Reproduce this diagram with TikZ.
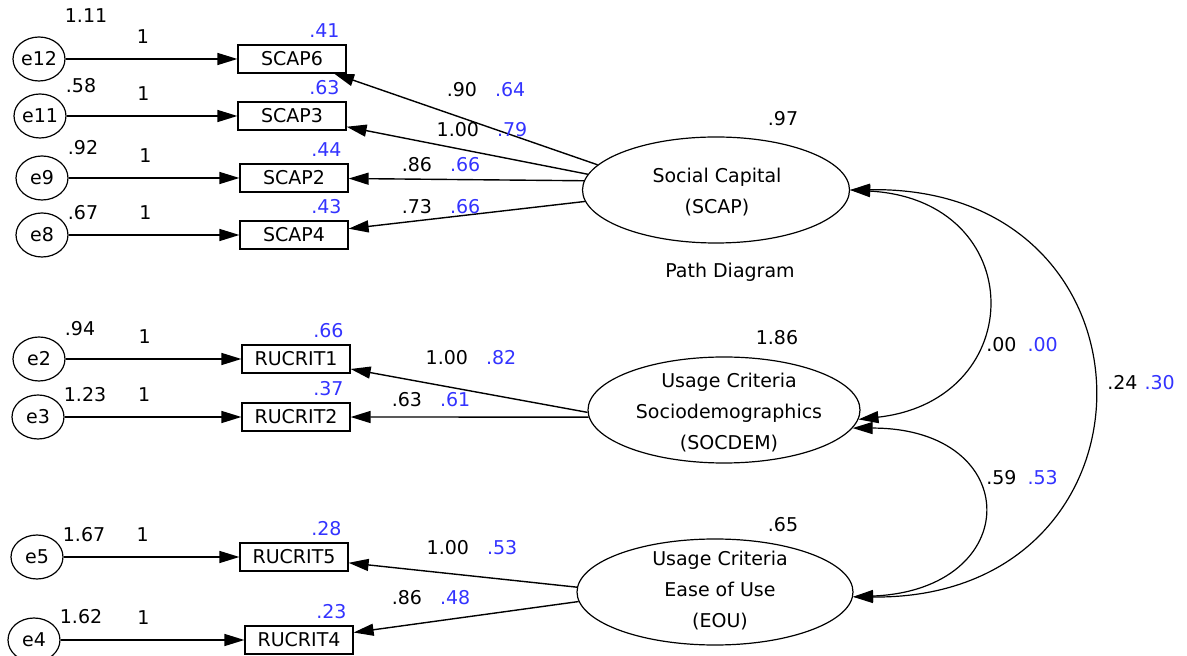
\documentclass[tikz,border=0pt]{standalone}
\usepackage{fontspec}
\setmainfont{DejaVu Sans}
\usepackage{tikz}
\usetikzlibrary{arrows.meta,shapes.geometric}
\definecolor{stdblue}{HTML}{3333FF}

\begin{document}
\begin{tikzpicture}[x=0.5pt,y=-0.5pt,font=\fontsize{9.5}{15.5}\selectfont,every node/.style={align=center},
  errvar/.style={draw,ellipse,line width=0.6pt,minimum width=26pt,minimum height=22pt,inner sep=0pt},
  indicator/.style={draw,line width=0.6pt,minimum width=54pt,minimum height=14pt,inner sep=0pt},
  factor/.style={draw,ellipse,line width=0.6pt,minimum height=53pt,inner sep=0pt},
  loading/.style={-{Triangle[length=10pt,width=6pt]},line width=0.7pt},
  covar/.style={{Triangle[length=10pt,width=6pt]}-{Triangle[length=10pt,width=6pt]},line width=0.6pt},
  r2/.style={text=stdblue,anchor=south east},
  evar/.style={anchor=south west}]
  \useasboundingbox (0,0) rectangle (1187,656);
  \node[errvar,label={[evar,yshift=6.5pt]north east:1.11}] (e12) at (39,59) {e12};
  \node[errvar,label={[evar]north east:.58}] (e11) at (40,116) {e11};
  \node[errvar,label={[evar]north east:.92}] (e9) at (42,178) {e9};
  \node[errvar,label={[evar,yshift=-4pt]north east:.67}] (e8) at (42,235) {e8};
  \node[errvar,label={[evar]north east:.94}] (e2) at (39,359) {e2};
  \node[errvar,label={[evar,yshift=-4pt]north east:1.23}] (e3) at (38,417) {e3};
  \node[errvar,label={[evar,yshift=-4pt]north east:1.67}] (e5) at (37,557) {e5};
  \node[errvar,label={[evar,yshift=-3.5pt]north east:1.62}] (e4) at (34,640) {e4};
  \node[indicator,label={[r2]north east:.41}] (scap6) at (292,59) {SCAP6};
  \node[indicator,label={[r2]north east:.63}] (scap3) at (292,116) {SCAP3};
  \node[indicator,label={[r2]north east:.44}] (scap2) at (294,178) {SCAP2};
  \node[indicator,label={[r2]north east:.43}] (scap4) at (294,235) {SCAP4};
  \node[indicator,label={[r2]north east:.66}] (rucrit1) at (296,359) {RUCRIT1};
  \node[indicator,label={[r2]north east:.37}] (rucrit2) at (296,417) {RUCRIT2};
  \node[indicator,label={[r2]north east:.28}] (rucrit5) at (294,557) {RUCRIT5};
  \node[indicator,label={[r2]north east:.23}] (rucrit4) at (299,640) {RUCRIT4};
  \node[factor,minimum width=133.5pt] (scap) at (716,190) {};
  \node[factor,minimum width=136pt] (socdem) at (724,410) {};
  \node[factor,minimum width=138pt] (eou) at (715,592) {};
  \node (scapname) at (717,192) {Social Capital\\(SCAP)};
  \node (socdemname) at (729,413) {Usage Criteria\\Sociodemographics\\(SOCDEM)};
  \node (eouname) at (720,591) {Usage Criteria\\Ease of Use\\(EOU)};
  \node (scapvar) at (783,119) {.97};
  \node (socdemvar) at (777,338) {1.86};
  \node (eouvar) at (783,525) {.65};
  \node (title) at (730,272) {Path Diagram};
  \draw[loading] (e12) -- node[pos=.45,above=4pt]{1} (scap6);
  \draw[loading] (e11) -- node[pos=.45,above=4pt]{1} (scap3);
  \draw[loading] (e9) -- node[pos=.45,above=4pt]{1} (scap2);
  \draw[loading] (e8) -- node[pos=.45,above=4pt]{1} (scap4);
  \draw[loading] (e2) -- node[pos=.45,above=4pt]{1} (rucrit1);
  \draw[loading] (e3) -- node[pos=.45,above=4pt]{1} (rucrit2);
  \draw[loading] (e5) -- node[pos=.45,above=4pt]{1} (rucrit5);
  \draw[loading] (e4) -- node[pos=.45,above=4pt]{1} (rucrit4);
  \draw[loading] (scap.168.6) -- (scap6);
  \draw[loading] (scap.173.4) -- (scap3);
  \draw[loading] (scap.176) -- (scap2);
  \draw[loading] (scap.185.6) -- (scap4);
  \draw[loading] (socdem.181) -- (rucrit1);
  \draw[loading] (socdem.183) -- (rucrit2);
  \draw[loading] (eou.178.3) -- (rucrit5);
  \draw[loading] (eou.184) -- (rucrit4);
  \node (l6) at (486,90) {.90\hspace{9pt}\textcolor{stdblue}{.64}};
  \node (l3) at (482,130) {1.00\hspace{9pt}\textcolor{stdblue}{.79}};
  \node (l2) at (441,165) {.86\hspace{9pt}\textcolor{stdblue}{.66}};
  \node (l4) at (441,207) {.73\hspace{9pt}\textcolor{stdblue}{.66}};
  \node (l1) at (471,358) {1.00\hspace{9pt}\textcolor{stdblue}{.82}};
  \node (l22) at (431,400) {.63\hspace{9pt}\textcolor{stdblue}{.61}};
  \node (l5) at (472,548) {1.00\hspace{9pt}\textcolor{stdblue}{.53}};
  \node (l44) at (431,598) {.86\hspace{9pt}\textcolor{stdblue}{.48}};
  \draw[covar] (scap.east) .. controls (1030,200) and (1030,400) .. (socdem.-4);
  \draw[covar] (socdem.-8) .. controls (1025,428) and (1025,590) .. (eou.-2);
  \draw[covar] (scap.east) .. controls (1172,185) and (1172,600) .. (eou.-2);
  \node (c1) at (1022,345) {.00\hspace{5.5pt}\textcolor{stdblue}{.00}};
  \node (c2) at (1141,383) {.24\hspace{3.5pt}\textcolor{stdblue}{.30}};
  \node (c3) at (1022,478) {.59\hspace{5.5pt}\textcolor{stdblue}{.53}};
\end{tikzpicture}
\end{document}
